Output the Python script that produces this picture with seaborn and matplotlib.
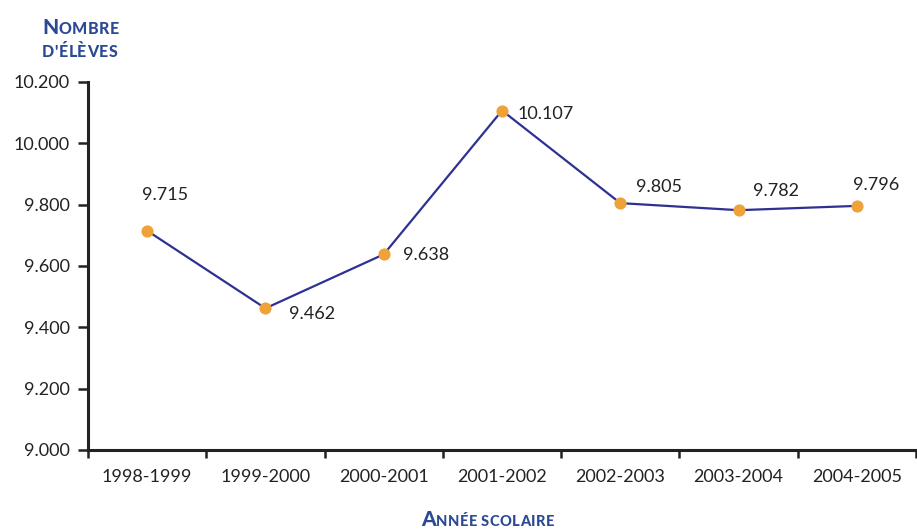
import matplotlib
matplotlib.use("Agg")
import matplotlib.pyplot as plt
import seaborn as sns
import pandas as pd
from matplotlib.ticker import FuncFormatter

years = ["1998-1999", "1999-2000", "2000-2001", "2001-2002",
         "2002-2003", "2003-2004", "2004-2005"]
students = [9715, 9462, 9638, 10107, 9805, 9782, 9796]
y_ticks = [9000, 9200, 9400, 9600, 9800, 10000, 10200]

# label offsets (pixels) relative to each point
label_offsets = [(-5, 36), (24, -6), (19, -1), (15, -3), (16, 16), (14, 19), (-4, 21)]

sns.set_style("ticks")
plt.rcParams["font.family"] = ["Lato", "DejaVu Sans"]

LINE = "#2e3192"
DOT = "#eea238"
TITLE = "#2c4a93"
TEXT = "#222222"

df = pd.DataFrame({"annee": range(len(years)), "eleves": students})

fig = plt.figure(figsize=(9.17, 5.32), dpi=100)
ax = fig.add_axes([88 / 917, (532 - 450) / 532, 1 - 88 / 917 - 0.001, (450 - 82) / 532])

sns.lineplot(data=df, x="annee", y="eleves", ax=ax, color=LINE, linewidth=1.6,
             marker="o", markersize=8, markerfacecolor=DOT, markeredgecolor=DOT,
             zorder=3)

def fmt(v):
    return f"{v:,.0f}".replace(",", ".")

for i, v in enumerate(students):
    dx, dy = label_offsets[i]
    ax.annotate(fmt(v), (i, v), xytext=(dx, dy), textcoords="offset pixels",
                ha="left", va="center", fontsize=13, color=TEXT)

ax.set_xlim(-0.5, len(years) - 0.5)
ax.set_ylim(9000, 10200)
ax.set_yticks(y_ticks)
ax.yaxis.set_major_formatter(FuncFormatter(lambda v, p: fmt(v)))
ax.set_xticks([i - 0.5 for i in range(len(years) + 1)])
ax.set_xticklabels([])
ax.set_xticks(range(len(years)), minor=True)
ax.set_xticklabels(years, minor=True)
ax.tick_params(axis="x", which="minor", length=0, pad=14, labelsize=13, labelcolor=TEXT)
ax.tick_params(axis="x", which="major", length=6, width=1.8, color="#222222", direction="out")
ax.tick_params(axis="y", length=7, width=1.8, color="#222222", labelsize=13,
               labelcolor=TEXT, pad=6)

for s in ["left", "bottom"]:
    ax.spines[s].set_linewidth(2.2)
    ax.spines[s].set_color("#222222")
for s in ["top", "right"]:
    ax.spines[s].set_visible(False)
ax.set_xlabel("")
ax.set_ylabel("")

renderer = fig.canvas.get_renderer()


def small_caps(x_px, base_px, text, caps, big=15, small=11.5):
    """Pseudo small caps: characters at indices in `caps` large, others small capitals."""
    x = x_px
    W, H = fig.bbox.width, fig.bbox.height
    for i, ch in enumerate(text):
        size = big if i in caps else small
        t = fig.text(x / W, 1 - base_px / H, ch.upper(), fontsize=size,
                     fontweight="black", color=TITLE, ha="left", va="baseline")
        if ch == " ":
            x += size * 0.3
        else:
            x += t.get_window_extent(renderer).width + 0.5


small_caps(42, 34, "Nombre", caps={0})
small_caps(42, 57, "d'élèves", caps=set())
small_caps(421, 526, "Année scolaire", caps={0}, small=10.5)

fig.savefig("out.png", dpi=100)
